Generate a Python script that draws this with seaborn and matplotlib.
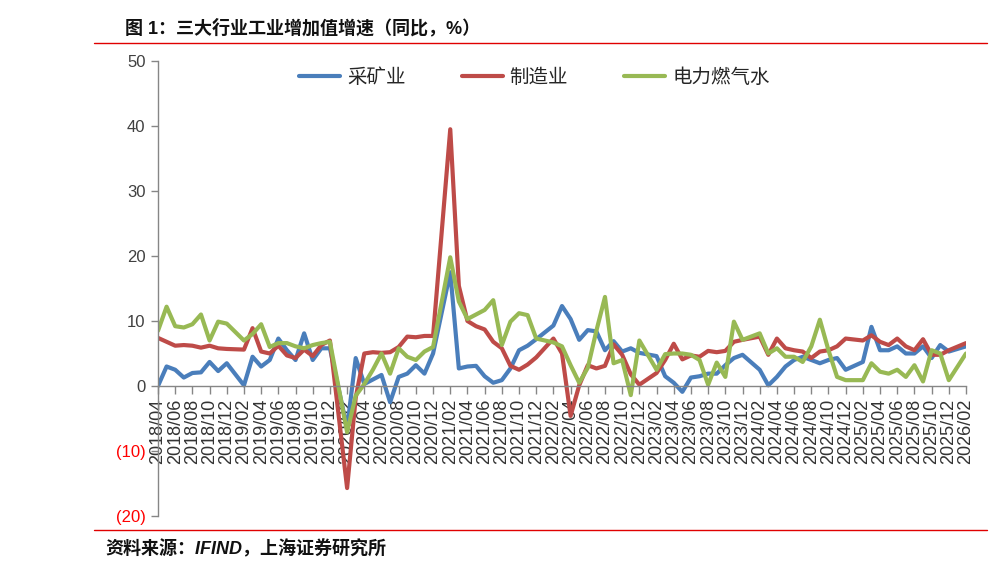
import numpy as np
import pandas as pd
import matplotlib
matplotlib.use("Agg")
import matplotlib.pyplot as plt
import seaborn as sns
from matplotlib.lines import Line2D

nan = np.nan

# 2018/04 .. 2026/02, monthly (January values not published -> NaN)
months = [p.strftime("%Y/%m") for p in pd.period_range("2018-04", "2026-02", freq="M")]

mining = [
    0.0, 3.0, 2.5, 1.3, 2.0, 2.1, 3.7, 2.3, 3.5,            # 2018/04-12
    nan, 0.1, 4.5, 3.0, 4.0, 7.3, 5.5, 4.0, 8.1, 4.0, 5.8, 5.8,   # 2019
    nan, -6.5, 4.3, 0.3, 1.0, 1.7, -2.5, 1.4, 1.9, 3.2, 1.9, 5.0,  # 2020
    nan, 17.5, 2.7, 3.0, 3.1, 1.5, 0.5, 0.9, 2.7, 5.5, 6.2, 7.2,   # 2021
    nan, 9.3, 12.3, 10.3, 7.1, 8.6, 8.4, 5.5, 6.9, 5.3, 5.8, 5.1,  # 2022
    nan, 4.6, 1.5, 0.5, -0.9, 1.3, 1.5, 1.9, 1.9, 3.2, 4.3, 4.8,   # 2023
    nan, 2.5, 0.1, 1.4, 3.0, 4.0, 4.5, 4.0, 3.5, 4.0, 4.3, 2.5,    # 2024
    nan, 3.7, 9.1, 5.5, 5.5, 6.1, 5.0, 5.0, 6.1, 4.3, 6.3, 5.3,    # 2025
    nan, 6.1,                                                     # 2026
]

manufacturing = [
    7.4, 6.8, 6.2, 6.3, 6.2, 5.9, 6.2, 5.8, 5.7,
    nan, 5.6, 8.9, 5.3, 5.0, 6.2, 4.7, 4.3, 5.6, 4.6, 6.3, 7.0,
    nan, -15.7, -1.8, 5.0, 5.2, 5.1, 5.2, 6.0, 7.6, 7.5, 7.7, 7.7,
    nan, 39.5, 15.4, 10.0, 9.2, 8.7, 6.8, 5.8, 3.1, 2.5, 3.3, 4.4,
    nan, 7.3, 5.0, -4.6, 0.1, 3.2, 2.7, 3.1, 6.4, 4.8, 1.8, 0.2,
    nan, 2.0, 4.0, 6.5, 4.1, 4.7, 4.5, 5.4, 5.2, 5.4, 6.8, 7.1,
    nan, 7.6, 4.8, 7.3, 5.8, 5.5, 5.3, 4.3, 5.3, 5.5, 6.1, 7.3,
    nan, 7.0, 7.8, 6.8, 6.3, 7.3, 6.1, 5.5, 7.2, 4.8, 4.8, 5.5,
    nan, 6.6,
]

utilities = [
    8.5, 12.2, 9.2, 9.0, 9.5, 11.0, 7.0, 9.9, 9.6,
    nan, 7.0, 8.0, 9.5, 6.0, 6.6, 6.6, 6.1, 5.8, 6.3, 6.6, 6.8,
    nan, -7.1, -1.5, 0.3, 2.5, 5.0, 1.9, 5.8, 4.5, 4.0, 5.3, 6.0,
    nan, 19.8, 13.0, 10.3, 11.0, 11.7, 13.2, 6.3, 9.9, 11.2, 10.9, 7.3,
    nan, 6.7, 6.1, 3.2, 0.5, 2.8, 8.5, 13.7, 3.5, 4.0, -1.4, 7.0,
    nan, 2.5, 4.9, 5.0, 5.0, 4.8, 4.0, 0.2, 3.6, 1.4, 9.9, 7.1,
    nan, 8.1, 5.0, 5.8, 4.5, 4.5, 3.7, 6.1, 10.2, 5.5, 1.4, 0.9,
    nan, 0.9, 3.5, 2.2, 1.9, 2.5, 1.4, 3.2, 0.7, 5.5, 5.0, 0.9,
    nan, 5.0,
]

series_names = ["采矿业", "制造业", "电力燃气水"]
series_colors = ["#4A7EBB", "#BE4B48", "#98B954"]
y_ticks = [-20, -10, 0, 10, 20, 30, 40, 50]
y_tick_labels = ["(20)", "(10)", "0", "10", "20", "30", "40", "50"]

title_text = "图 1：三大行业工业增加值增速（同比，%）"
source_text = "资料来源：IFIND，上海证券研究所"

sns.set_theme(style="white")
plt.rcParams["font.family"] = ["Liberation Sans", "Noto Sans CJK SC", "DejaVu Sans"]

df = pd.DataFrame({"idx": np.arange(len(months)), "month": months,
                   series_names[0]: mining,
                   series_names[1]: manufacturing,
                   series_names[2]: utilities})
long = df.melt(id_vars=["idx", "month"], var_name="series", value_name="value").dropna()

fig = plt.figure(figsize=(9.92, 5.63), dpi=100)
ax = fig.add_axes([158 / 992, 47 / 563, 808 / 992, 455 / 563])

sns.lineplot(data=long, x="idx", y="value", hue="series", hue_order=series_names,
             palette=dict(zip(series_names, series_colors)), estimator=None,
             linewidth=3, ax=ax)
for ln in ax.lines:
    ln.set_solid_joinstyle("round")
    ln.set_solid_capstyle("round")

# spines first (set_position resets ticks)
for s in ["top", "right"]:
    ax.spines[s].set_visible(False)
ax.spines["bottom"].set_position(("data", 0))
for s in ["left", "bottom"]:
    ax.spines[s].set_color("#868686")
    ax.spines[s].set_linewidth(1)

ax.set_xlim(0, len(months) - 1)
ax.set_ylim(-20, 50)
ax.set_xlabel("")
ax.set_ylabel("")

ax.set_xticks(np.arange(0, len(months), 2))
ax.set_xticklabels(months[::2], rotation=90, fontsize=13, color="#333333")
ax.set_yticks(y_ticks)
ax.set_yticklabels(y_tick_labels, fontsize=12)
for lab, v in zip(ax.get_yticklabels(), y_ticks):
    lab.set_color("#FF0000" if v < 0 else "#404040")

ax.tick_params(axis="x", bottom=True, length=6, width=1, color="#868686", direction="out", pad=3)
ax.tick_params(axis="y", left=True, length=5, width=1, color="#868686", direction="out", pad=4)

handles, labels = ax.get_legend_handles_labels()
ax.legend(handles, labels, loc="center", bbox_to_anchor=(0.466, 0.963), ncol=3,
          frameon=False, fontsize=14, handlelength=2.1, handletextpad=0.35,
          columnspacing=2.9)

# decorations
fig.add_artist(Line2D([94 / 992, 987 / 992], [1 - 43 / 563] * 2, color="#E00000", lw=1))
fig.add_artist(Line2D([94 / 992, 987 / 992], [1 - 530 / 563] * 2, color="#E00000", lw=1))
fig.text(125 / 992, 1 - 28 / 563, title_text, fontsize=13, fontweight="bold",
         ha="left", va="center", color="#111111",
         family=["Liberation Sans", "Noto Sans CJK SC", "DejaVu Sans"])
fig.text(105 / 992, 1 - 549 / 563, source_text, fontsize=13, fontweight="bold",
         style="italic", ha="left", va="center", color="#111111",
         family=["Liberation Sans", "Noto Sans CJK SC", "DejaVu Sans"])

fig.savefig("out.png", dpi=100)
